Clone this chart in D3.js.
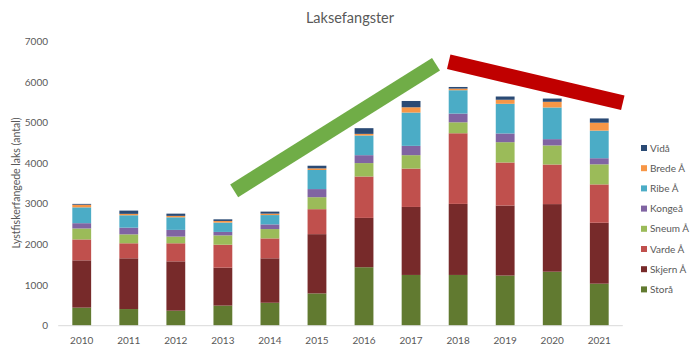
<!DOCTYPE html>
<html>
<head>
<meta charset="utf-8">
<script src="https://cdn.jsdelivr.net/npm/d3@7"></script>
<style>
  body { margin: 0; background: #fff; }
  text { font-family: Lato, "Open Sans", sans-serif; fill: #595959; }
</style>
</head>
<body>
<div id="chart"></div>
<script>
// data
const years = ["2010", "2011", "2012", "2013", "2014", "2015", "2016", "2017", "2018", "2019", "2020", "2021"];
const seriesNames = ["Storå", "Skjern Å", "Varde Å", "Sneum Å", "Kongeå", "Ribe Å", "Brede Å", "Vidå"];
const storaa  = [445, 410, 370, 495, 565, 795, 1440, 1250, 1250, 1235, 1330, 1035];
const skjern  = [1165, 1250, 1215, 935, 1095, 1460, 1215, 1675, 1750, 1725, 1665, 1500];
const varde   = [515, 370, 445, 565, 490, 615, 1020, 945, 1740, 1060, 975, 945];
const sneum   = [270, 220, 165, 230, 230, 295, 330, 330, 270, 500, 470, 495];
const kongeaa = [130, 165, 165, 85, 115, 200, 195, 230, 215, 215, 155, 150];
const ribe    = [390, 305, 310, 230, 230, 470, 485, 820, 575, 730, 780, 680];
const brede   = [65, 35, 35, 40, 35, 40, 40, 130, 40, 100, 140, 195];
const vidaa   = [20, 80, 55, 40, 50, 65, 140, 155, 40, 80, 80, 105];
const yTicks = [0, 1000, 2000, 3000, 4000, 5000, 6000, 7000];

// trend annotations (year position as index, value)
const upTrend = [[3.24, 3320], [7.53, 6440]];
const downTrend = [[7.8, 6500], [11.5, 5490]];

const colors = ["#617a30", "#772a2a", "#c0504d", "#9bbb59", "#8064a2", "#4bacc6", "#f79646", "#2a4a74"];

const width = 700, height = 351;

const svg = d3.select("#chart")
    .append("svg")
    .attr("width", width)
    .attr("height", height);

const allSeries = [storaa, skjern, varde, sneum, kongeaa, ribe, brede, vidaa];
const table = years.map((y, i) => {
    const row = { year: y };
    seriesNames.forEach((s, k) => row[s] = allSeries[k][i]);
    return row;
});

const x = d3.scaleBand()
    .domain(years)
    .range([58.2, 622.8])
    .paddingInner(0.6)
    .paddingOuter(0.3);

const y = d3.scaleLinear()
    .domain([0, 7000])
    .range([325.7, 41.5]);

const color = d3.scaleOrdinal().domain(seriesNames).range(colors);

// title
svg.append("text")
    .attr("x", 350)
    .attr("y", 23)
    .attr("text-anchor", "middle")
    .style("font-size", "14.5px")
    .text("Laksefangster");

// y ticks (no axis line)
svg.append("g")
    .selectAll("text")
    .data(yTicks)
    .enter()
    .append("text")
    .attr("x", 48)
    .attr("y", d => y(d))
    .attr("dy", "0.35em")
    .attr("text-anchor", "end")
    .style("font-size", "10px")
    .text(d => d);

// y title
svg.append("text")
    .attr("transform", "translate(20,183) rotate(-90)")
    .attr("text-anchor", "middle")
    .style("font-size", "10.5px")
    .text("Lystfiskerfangede laks (antal)");

// stacked bars
const stack = d3.stack().keys(seriesNames)(table);

svg.append("g")
    .selectAll("g")
    .data(stack)
    .enter()
    .append("g")
    .attr("fill", d => color(d.key))
    .selectAll("rect")
    .data(d => d)
    .enter()
    .append("rect")
    .attr("x", d => x(d.data.year))
    .attr("width", x.bandwidth())
    .attr("y", d => y(d[1]))
    .attr("height", d => y(d[0]) - y(d[1]));

// x axis line
svg.append("line")
    .attr("x1", x.range()[0])
    .attr("x2", x.range()[1])
    .attr("y1", y(0))
    .attr("y2", y(0))
    .attr("stroke", "#d9d9d9")
    .attr("stroke-width", 1);

svg.append("g")
    .selectAll("text")
    .data(years)
    .enter()
    .append("text")
    .attr("x", d => x(d) + x.bandwidth() / 2)
    .attr("y", 344)
    .attr("text-anchor", "middle")
    .style("font-size", "10px")
    .text(d => d);

// legend (reverse order)
const legend = svg.append("g")
    .selectAll("g")
    .data(seriesNames.slice().reverse())
    .enter()
    .append("g")
    .attr("transform", (d, i) => "translate(641," + (148 + i * 20.2) + ")");

legend.append("rect")
    .attr("x", 0)
    .attr("y", -3)
    .attr("width", 6)
    .attr("height", 6)
    .attr("fill", d => color(d));

legend.append("text")
    .attr("x", 9)
    .attr("dy", "0.35em")
    .style("font-size", "10px")
    .text(d => d);

// trend bands
const xi = d3.scaleLinear()
    .domain([0, years.length - 1])
    .range([x(years[0]) + x.bandwidth() / 2, x(years[years.length - 1]) + x.bandwidth() / 2]);

const line = d3.line().x(d => xi(d[0])).y(d => y(d[1]));

svg.append("path")
    .attr("d", line(upTrend))
    .attr("stroke", "#70ad47")
    .attr("stroke-width", 15)
    .attr("fill", "none");

svg.append("path")
    .attr("d", line(downTrend))
    .attr("stroke", "#c00000")
    .attr("stroke-width", 15)
    .attr("fill", "none");
</script>
</body>
</html>
